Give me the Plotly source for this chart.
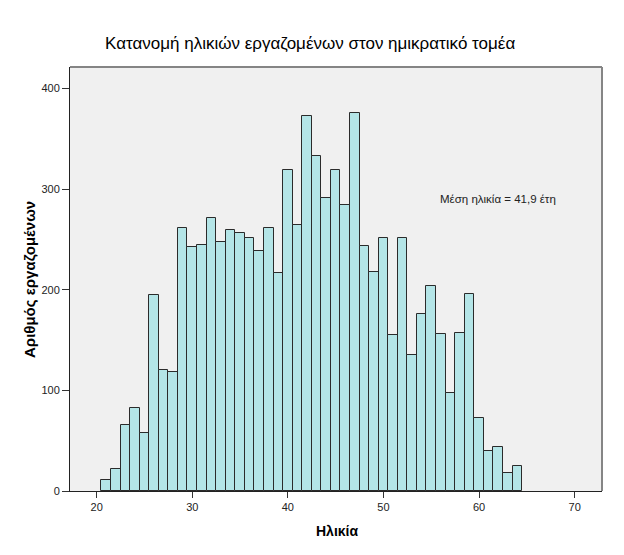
import plotly.graph_objects as go

# Ηλικίες (κέντρα κλάσεων) και πλήθος εργαζομένων
ages = list(range(21, 65))
counts = [11, 22, 66, 83, 58, 195, 120, 118, 261, 243,
          245, 271, 248, 259, 256, 252, 239, 261, 217, 319,
          264, 373, 333, 291, 319, 284, 376, 244, 218, 252,
          155, 252, 135, 176, 204, 156, 97, 157, 196, 73,
          40, 44, 18, 25]

x_ticks = [20, 30, 40, 50, 60, 70]
y_ticks = [0, 100, 200, 300, 400]

title_text = "Κατανομή ηλικιών εργαζομένων στον ημικρατικό τομέα"
x_title = "Ηλικία"
y_title = "Αριθμός εργαζομένων"
mean_label = "Μέση ηλικία = 41,9 έτη"

font = "Liberation Sans, Arial, sans-serif"

# la page a une marge de 8px, donc figure un peu plus petite
W, H = 608, 539
L, R, T, B = 62, 593.7, 58.7, 483
pw, ph = R - L, B - T

fig = go.Figure()
fig.add_trace(go.Bar(x=ages, y=counts, width=1,
                     marker=dict(color="#B4E5E7",
                                 line=dict(color="#2B2B2B", width=1)),
                     hoverinfo="x+y"))

fig.update_layout(
    width=W, height=H,
    margin=dict(l=L, r=W - R, t=T, b=H - B, pad=0),
    paper_bgcolor="white",
    plot_bgcolor="#F0F0F0",
    showlegend=False,
    bargap=0,
    font=dict(family=font, size=11, color="#222222"),
)

fig.update_xaxes(range=[17.21, 72.86], tickvals=x_ticks,
                 ticks="outside", ticklen=6, tickcolor="#333333",
                 showline=True, linecolor="#222222", linewidth=1,
                 showgrid=False, zeroline=False)
fig.update_yaxes(range=[0, 421.5], tickvals=y_ticks,
                 ticks="outside", ticklen=7, tickcolor="#333333",
                 showline=True, linecolor="#222222", linewidth=1,
                 showgrid=False, zeroline=False)

# cadre gris en haut et a droite
fig.add_shape(type="line", xref="paper", yref="paper",
              x0=0, x1=1, y0=1, y1=1, line=dict(color="#858585", width=2))
fig.add_shape(type="line", xref="paper", yref="paper",
              x0=1, x1=1, y0=0, y1=1, line=dict(color="#858585", width=2))

fig.add_annotation(text=title_text, xref="paper", yref="paper",
                   x=(302 - L) / pw, y=1 + (T - 35) / ph,
                   showarrow=False, xanchor="center", yanchor="middle",
                   font=dict(family=font, size=17, color="black"))
fig.add_annotation(text="<b>" + x_title + "</b>", xref="paper", yref="paper",
                   x=(329 - L) / pw, y=-(523 - B) / ph,
                   showarrow=False, xanchor="center", yanchor="middle",
                   font=dict(family=font, size=14, color="black"))
fig.add_annotation(text="<b>" + y_title + "</b>", xref="paper", yref="paper",
                   x=-(L - 21) / pw, y=0.5, textangle=-90,
                   showarrow=False, xanchor="center", yanchor="middle",
                   font=dict(family=font, size=15, color="black"))
fig.add_annotation(text=mean_label, x=62.0, y=290,
                   showarrow=False, xanchor="center", yanchor="middle",
                   font=dict(family=font, size=11.5, color="#222222"))

fig.write_html("out.html")
